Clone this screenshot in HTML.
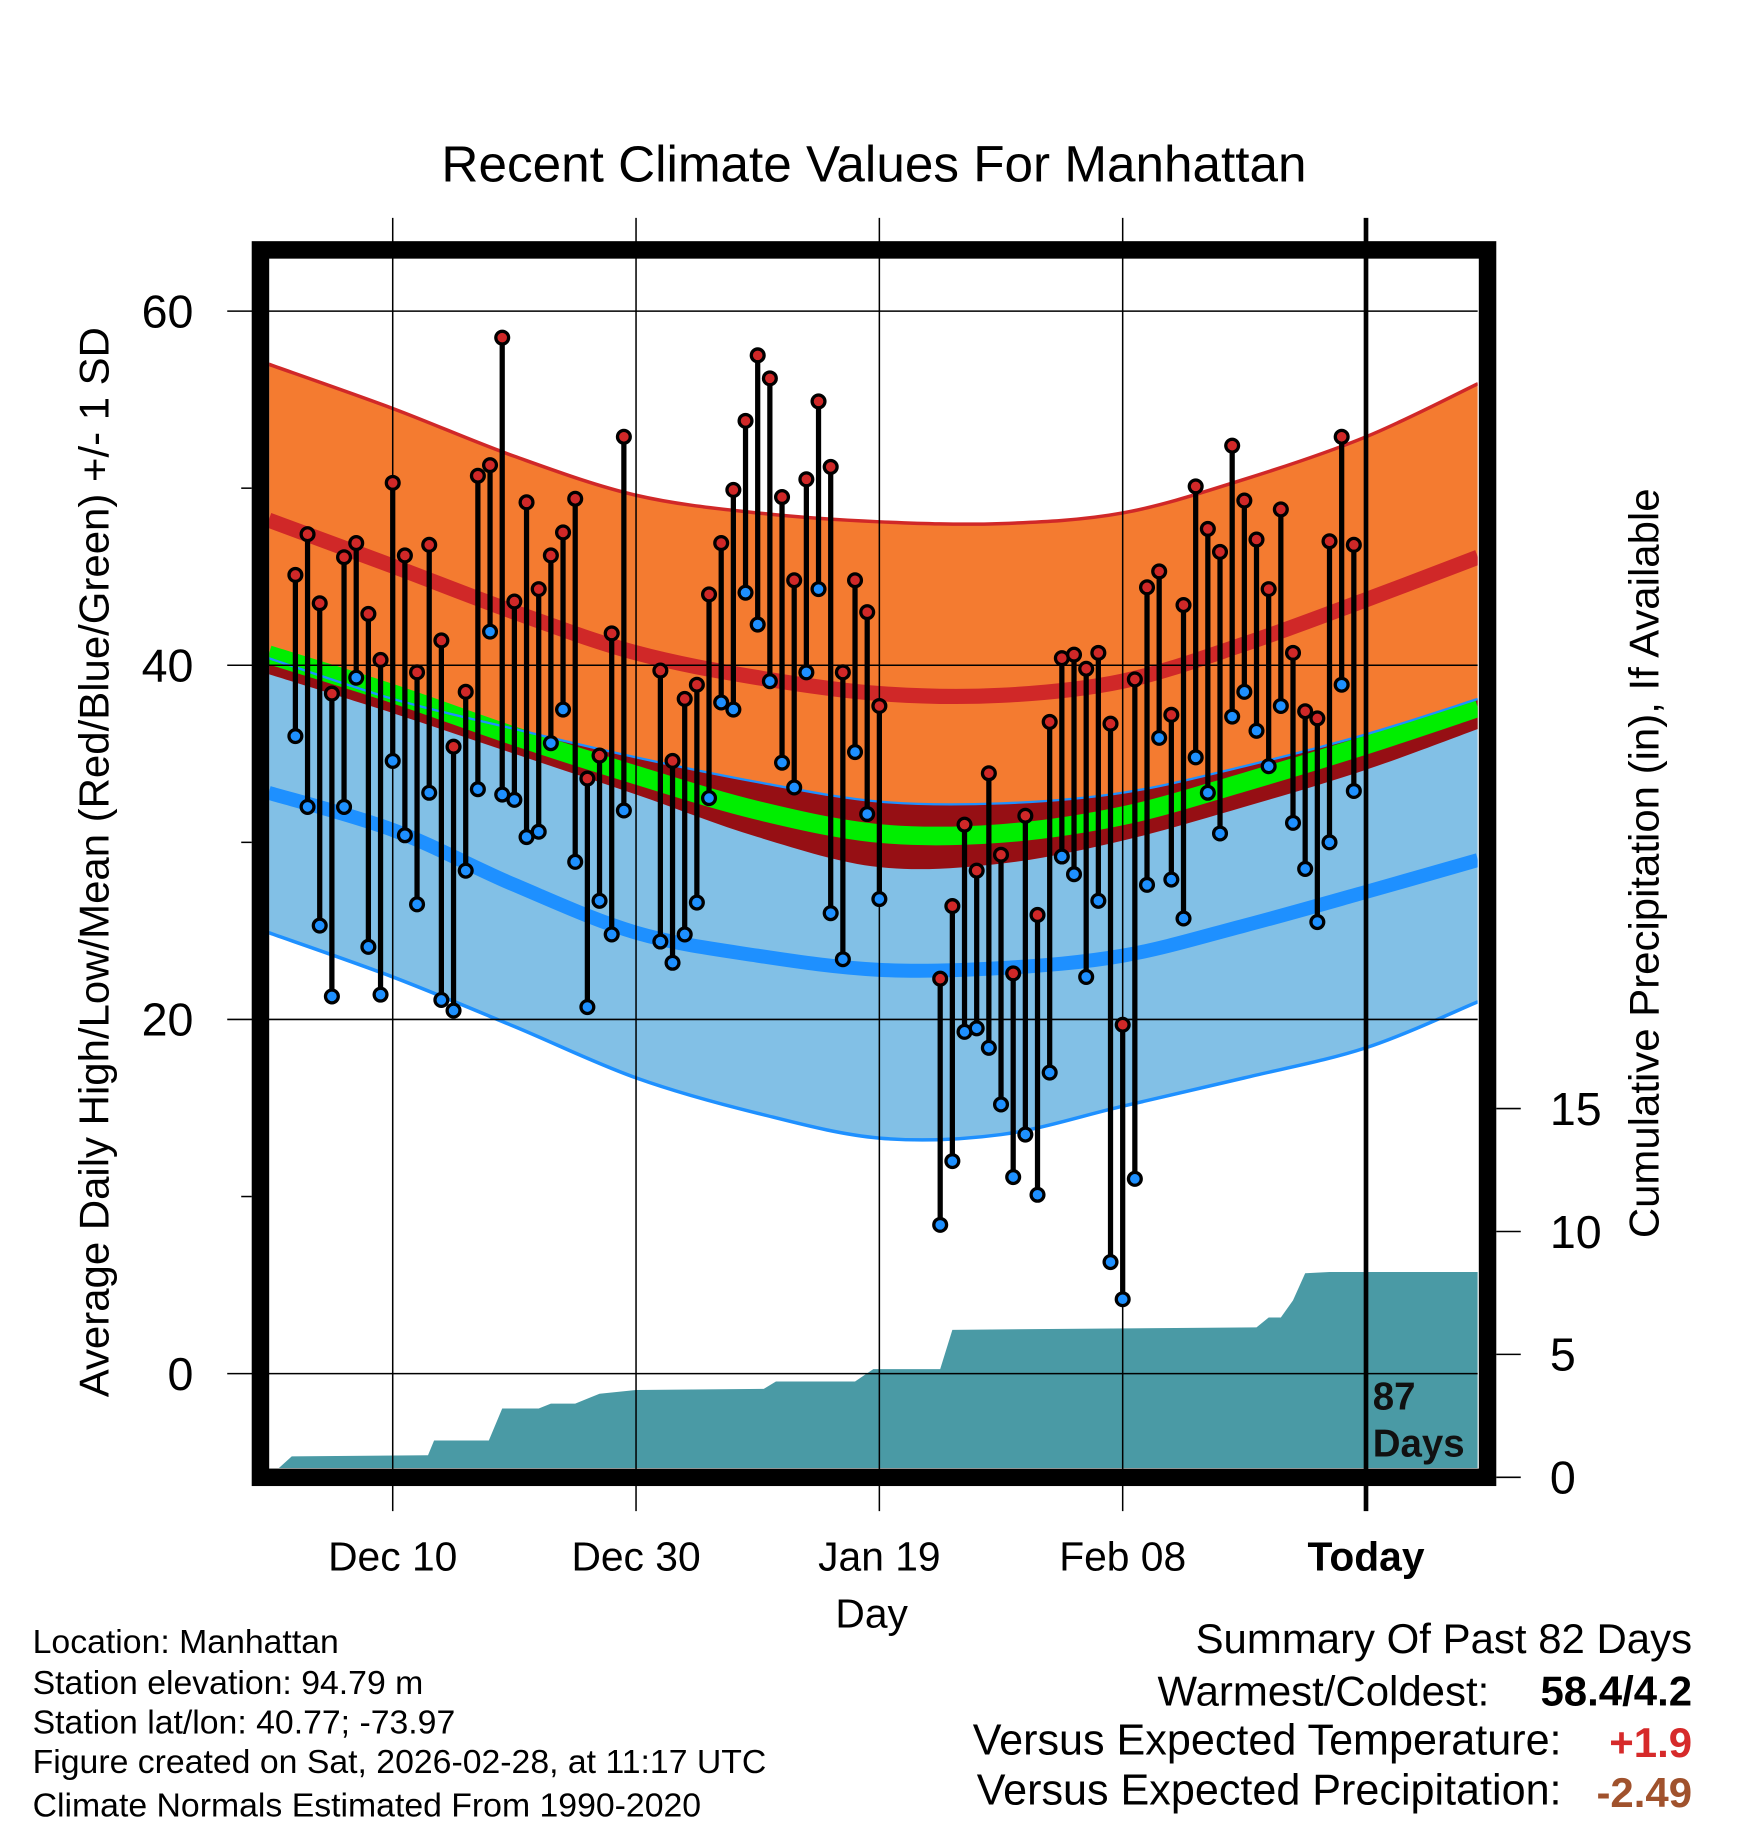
<!DOCTYPE html>
<html><head><meta charset="utf-8"><style>
html,body{margin:0;padding:0;background:#fff;}
svg{display:block;font-family:"Liberation Sans",sans-serif;}
</style></head><body>
<svg id="chart" width="1748" height="1828" viewBox="0 0 1500 1569" preserveAspectRatio="none" xmlns="http://www.w3.org/2000/svg">
<defs><clipPath id="plotclip"><rect x="231" y="222" width="1037" height="1038"/></clipPath></defs>
<rect width="1500" height="1569" fill="#fff"/>
<text x="750" y="156" font-size="44" text-anchor="middle">Recent Climate Values For Manhattan</text>
<g id="plot" clip-path="url(#plotclip)"></g>
<g id="axes"></g>
<rect x="223.5" y="214.5" width="1053" height="1053.5" fill="none" stroke="#000" stroke-width="15"/>
<text transform="translate(93,740) rotate(-90)" font-size="36" text-anchor="middle">Average Daily High/Low/Mean (Red/Blue/Green) +/- 1 SD</text>
<text transform="translate(1423,741) rotate(-90)" font-size="36" text-anchor="middle">Cumulative Precipitation (in), If Available</text>
<text x="748" y="1397" font-size="35" text-anchor="middle">Day</text>
<text x="1178" y="1210" font-size="33" font-weight="bold" fill="#111">87</text>
<text x="1178" y="1250" font-size="33" font-weight="bold" fill="#111">Days</text>
<g font-size="29">
<text x="28" y="1419">Location: Manhattan</text>
<text x="28" y="1454">Station elevation: 94.79 m</text>
<text x="28" y="1488">Station lat/lon: 40.77; -73.97</text>
<text x="28" y="1522">Figure created on Sat, 2026-02-28, at 11:17 UTC</text>
<text x="28" y="1559">Climate Normals Estimated From 1990-2020</text>
</g>
<g font-size="36">
<text x="1452" y="1419" text-anchor="end">Summary Of Past 82 Days</text>
<text x="1278" y="1464" text-anchor="end">Warmest/Coldest:</text>
<text x="1452" y="1464" text-anchor="end" font-weight="bold">58.4/4.2</text>
<text x="1340" y="1506" text-anchor="end" font-size="37">Versus Expected Temperature:</text>
<text x="1452" y="1508" text-anchor="end" font-weight="bold" fill="#d62a2a">+1.9</text>
<text x="1340" y="1549" text-anchor="end" font-size="37">Versus Expected Precipitation:</text>
<text x="1452" y="1551" text-anchor="end" font-weight="bold" fill="#a0522d">-2.49</text>
</g>
</svg>
<script>
// observed data: day offset from Dec 10
const obsDays=[-8,-7,-6,-5,-4,-3,-2,-1,0,1,2,3,4,5,6,7,8,9,10,11,12,13,14,15,16,17,18,19,22,23,24,25,26,27,28,29,30,31,32,33,34,35,36,37,38,39,40,45,46,47,48,49,50,51,52,53,54,55,56,57,58,59,60,61,62,63,64,65,66,67,68,69,70,71,72,73,74,75,76,77,78,79];
const highs=[45.1,47.4,43.5,38.4,46.1,46.9,42.9,40.3,50.3,46.2,39.6,46.8,41.4,35.4,38.5,50.7,51.3,58.5,43.6,49.2,44.3,46.2,47.5,49.4,33.6,34.9,41.8,52.9,39.7,34.6,38.1,38.9,44.0,46.9,49.9,53.8,57.5,56.2,49.5,44.8,50.5,54.9,51.2,39.6,44.8,43.0,37.7,22.3,26.4,31.0,28.4,33.9,29.3,22.6,31.5,25.9,36.8,40.4,40.6,39.8,40.7,36.7,19.7,39.2,44.4,45.3,37.2,43.4,50.1,47.7,46.4,52.4,49.3,47.1,44.3,48.8,40.7,37.4,37.0,47.0,52.9,46.8];
const lows=[36.0,32.0,25.3,21.3,32.0,39.3,24.1,21.4,34.6,30.4,26.5,32.8,21.1,20.5,28.4,33.0,41.9,32.7,32.4,30.3,30.6,35.6,37.5,28.9,20.7,26.7,24.8,31.8,24.4,23.2,24.8,26.6,32.5,37.9,37.5,44.1,42.3,39.1,34.5,33.1,39.6,44.3,26.0,23.4,35.1,31.6,26.8,8.4,12.0,19.3,19.5,18.4,15.2,11.1,13.5,10.1,17.0,29.2,28.2,22.4,26.7,6.3,4.2,11.0,27.6,35.9,27.9,25.7,34.8,32.8,30.5,37.1,38.5,36.3,34.3,37.7,31.1,28.5,25.5,30.0,38.9,32.9];
// climate normals at sample days
const normDays=[-10.2,0,10,20,30,40,50,60,70,80,89.2];
const hiPlus=[57.0,54.5,51.8,49.6,48.6,48.1,48.0,48.6,50.5,52.9,55.9];
const hiMean=[48.2,45.6,43.0,40.7,39.3,38.4,38.3,39.1,41.2,43.7,46.1];
const hiMinus=[39.5,37.3,35.0,32.7,30.3,28.6,28.8,30.1,32.0,34.1,36.4];
const meanT=[40.6,38.4,36.0,33.8,31.8,30.5,30.5,31.5,33.4,35.5,37.6];
const loPlus=[40.4,38.1,36.4,34.8,33.4,32.3,32.2,32.8,34.3,36.1,38.1];
const loMean=[32.8,30.7,27.6,24.9,23.6,22.8,22.9,23.6,25.3,27.2,29.0];
const loMinus=[24.9,22.4,19.6,16.7,14.7,13.3,13.5,15.1,16.7,18.4,21.0];
// cumulative precipitation
const precDays=[-10.2,-8.3,2.9,3.4,7.9,9,12,13,15,17,20,30.5,31.5,38,39.5,45,46,71,72,73,74,75,77,89.2];
const precCum=[0,0.85,0.9,1.5,1.5,2.8,2.8,3.0,3.0,3.4,3.55,3.6,3.9,3.9,4.4,4.4,6.0,6.1,6.5,6.5,7.2,8.3,8.35,8.35];
const yTicks=[0,20,40,60];
const yMinor=[10,30,50];
const pTicks=[0,5,10,15];
const xTickDays=[0,20,40,60,80];
const xTickLabels=["Dec 10","Dec 30","Jan 19","Feb 08","Today"];

const NS="http://www.w3.org/2000/svg";
const X=d=>337+d*10.44;
const YT=v=>1179-v*15.2;
const YP=p=>1268-p*21.1;
function mk(tag,attrs,parent){const e=document.createElementNS(NS,tag);for(const k in attrs)e.setAttribute(k,attrs[k]);parent.appendChild(e);return e;}
function pts(vals){return normDays.map((d,i)=>[X(d),YT(vals[i])]);}
function smooth(p){let s="M"+p[0][0]+","+p[0][1];for(let i=0;i<p.length-1;i++){const p0=p[i-1]||p[i],p1=p[i],p2=p[i+1],p3=p[i+2]||p2;
const c1=[p1[0]+(p2[0]-p0[0])/6,p1[1]+(p2[1]-p0[1])/6],c2=[p2[0]-(p3[0]-p1[0])/6,p2[1]-(p3[1]-p1[1])/6];
s+=" C"+c1[0]+","+c1[1]+" "+c2[0]+","+c2[1]+" "+p2[0]+","+p2[1];}return s;}
function smoothRev(p){return smooth(p.slice().reverse()).replace(/^M/," L");}
const plot=document.getElementById('plot');
const axes=document.getElementById('axes');

let e;
e=mk('path',{d:smooth(pts(hiPlus))+smoothRev(pts(hiMinus))+"Z",fill:"#f47b30"},plot);


e=mk('path',{d:smooth(pts(loPlus))+smoothRev(pts(loMinus))+"Z",fill:"#82c0e6"},plot);


e=mk('path',{d:smooth(pts(loPlus))+smoothRev(pts(hiMinus))+"Z",fill:"#960f14"},plot);


e=mk('path',{d:smooth(pts(meanT)),fill:"none",stroke:"#00ee00","stroke-width":16},plot);


e=mk('path',{d:smooth(pts(hiMean)),fill:"none",stroke:"#d02828","stroke-width":13},plot);


e=mk('path',{d:smooth(pts(loMean)),fill:"none",stroke:"#1e90ff","stroke-width":12},plot);


e=mk('path',{d:smooth(pts(hiPlus)),fill:"none",stroke:"#d02828","stroke-width":3},plot);


e=mk('path',{d:smooth(pts(loPlus)),fill:"none",stroke:"#1e90ff","stroke-width":2},plot);


e=mk('path',{d:smooth(pts(loMinus)),fill:"none",stroke:"#1e90ff","stroke-width":3},plot);



let pd="M"+X(precDays[0])+","+YP(0);
precDays.forEach((d,i)=>{pd+=" L"+X(d)+","+YP(precCum[i]);});
pd+=" L"+X(precDays[precDays.length-1])+","+YP(0)+"Z";
e=mk('path',{d:pd,fill:"#4a9aa5"},plot);



yTicks.forEach(v=>{const g=mk('line',{x1:195,x2:1268,y1:YT(v),y2:YT(v),stroke:"#000","stroke-width":1.3},axes);


const t=mk('text',{x:166,y:YT(v)+14,"font-size":40,"text-anchor":"end"},axes);t.textContent=v;

});
yMinor.forEach(v=>{const g=mk('line',{x1:207,x2:216,y1:YT(v),y2:YT(v),stroke:"#000","stroke-width":1.3},axes);

});
pTicks.forEach(p=>{const g=mk('line',{x1:1284,x2:1305,y1:YP(p),y2:YP(p),stroke:"#000","stroke-width":1.3},axes);


const t=mk('text',{x:1330,y:YP(p)+14,"font-size":40},axes);t.textContent=p;

});
xTickDays.forEach((d,i)=>{const last=i===xTickDays.length-1;
const g=mk('line',{x1:X(d),x2:X(d),y1:187,y2:1297,stroke:"#000","stroke-width":last?4:1.3},axes);


const t=mk('text',{x:X(d),y:1348,"font-size":35,"text-anchor":"middle","font-weight":last?"bold":"normal"},axes);t.textContent=xTickLabels[i];

});

obsDays.forEach((d,i)=>{const x=X(d);
const s=mk('line',{x1:x,x2:x,y1:YT(highs[i]),y2:YT(lows[i]),stroke:"#000","stroke-width":4.5},axes);


const h=mk('circle',{cx:x,cy:YT(highs[i]),r:5.5,fill:"#d02828",stroke:"#000","stroke-width":2.8},axes);


const l=mk('circle',{cx:x,cy:YT(lows[i]),r:5.5,fill:"#1e90ff",stroke:"#000","stroke-width":2.8},axes);

});
</script>
</body></html>
